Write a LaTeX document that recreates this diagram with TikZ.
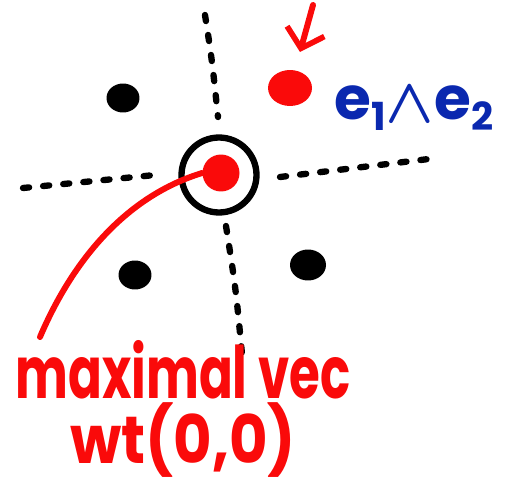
\documentclass[tikz,border=0pt]{standalone}
\usepackage{amsmath}
\usepackage{fontspec}
\setsansfont{Poppins}
\usepackage{tikz}
\usetikzlibrary{arrows.meta,positioning,shapes.geometric}
\definecolor{penred}{RGB}{250,10,10}
\definecolor{penblue}{RGB}{10,40,175}

\begin{document}
\begin{tikzpicture}[x=0.02cm, y=-0.02cm,
  wA/.style={ellipse, fill=black, inner sep=0pt, minimum width=0.66cm, minimum height=0.58cm},
  wB/.style={ellipse, fill=penred, inner sep=0pt, minimum width=0.88cm, minimum height=0.72cm},
  ring/.style={circle, draw, line width=3.6pt, inner sep=0pt, minimum size=1.5cm},
  axis/.style={line width=3.6pt, line cap=round, dash pattern=on 3.5pt off 8pt},
  pen/.style={penred, line width=3.4pt, line cap=round},
  lbl/.style={penred, inner sep=0pt, font=\sffamily\bfseries\fontsize{33}{36}\selectfont}]
  \useasboundingbox (0,0) rectangle (513,486);

  % dotted axes through the origin
  \draw[axis] (205,15) .. controls (212,60) .. (218,117);
  \draw[axis] (226,226) .. controls (236,290) .. (243,365);
  \draw[axis] (23,188) -- (155,175);
  \draw[axis] (280,177) -- (437,158);

  % weights
  \node[wA] (w1) at (123,98) {};
  \node[wA] (w2) at (135,275) {};
  \node[wA, minimum width=0.72cm, minimum height=0.62cm] (w3) at (308,265) {};
  \node[wB] (top) at (290,88) {};
  \node[wB, minimum width=0.74cm, minimum height=0.74cm] (zero) at (221,173) {};
  \node[ring] (circ) at (219,175) {};

  \node[penblue, anchor=west, inner sep=0pt, font=\sffamily\bfseries\fontsize{34}{38}\selectfont]
       (wedge) at (334,108)
       {e\raisebox{-0.35ex}{\fontsize{22}{24}\selectfont 1}\raisebox{-0.1ex}{\scalebox{1.45}{$\boldsymbol{\wedge}$}}e\raisebox{-0.35ex}{\fontsize{22}{24}\selectfont 2}};

  % arrow onto the highest weight
  \coordinate (tip) at (300,52);
  \coordinate (tail) at (313,5);
  \draw[pen, -{Straight Barb[length=10pt, width=22pt, line width=3.2pt]}] (tail) -- (tip);

  % label and its curve
  \node[lbl] (maxl) at (183,370) {\scalebox{0.86}[1.25]{maximal vec}};
  \node[lbl] (wtl) at (183,440) {\scalebox{1.02}[1.15]{wt(0,0)}};
  \coordinate (cend) at (40,337);
  \draw[pen] (zero.west) .. controls (130,195) and (75,255) .. (cend);
\end{tikzpicture}
\end{document}
